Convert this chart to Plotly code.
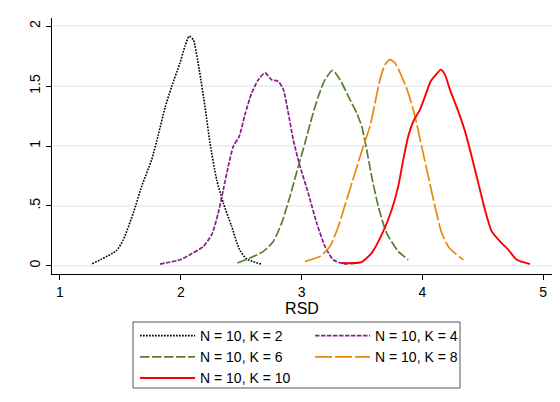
import plotly.graph_objects as go

# Kernel density estimates of RSD, N = 10, for several K values
rsd_k2 = [1.267, 1.469, 1.524, 1.607, 1.676, 1.759, 1.814, 1.869, 1.925, 1.993, 2.035, 2.070,
          2.103, 2.153, 2.200, 2.242, 2.297, 2.352, 2.421, 2.484, 2.546, 2.664]
den_k2 = [0.017, 0.128, 0.217, 0.440, 0.663, 0.886, 1.094, 1.317, 1.498, 1.693, 1.835, 1.917,
          1.888, 1.637, 1.330, 1.025, 0.719, 0.524, 0.329, 0.140, 0.056, 0.014]

rsd_k4 = [1.828, 1.993, 2.076, 2.186, 2.256, 2.310, 2.352, 2.393, 2.435, 2.484, 2.531, 2.587,
          2.642, 2.697, 2.752, 2.807, 2.849, 2.890, 2.931, 2.987, 3.055, 3.125, 3.194, 3.262,
          3.345, 3.467]
den_k4 = [0.014, 0.050, 0.092, 0.161, 0.259, 0.440, 0.635, 0.830, 0.997, 1.081, 1.261, 1.443,
          1.554, 1.610, 1.554, 1.540, 1.471, 1.276, 1.053, 0.830, 0.607, 0.357, 0.161, 0.050,
          0.017, 0.022]

rsd_k6 = [2.468, 2.573, 2.683, 2.766, 2.835, 2.904, 2.973, 3.028, 3.084, 3.139, 3.194, 3.257,
          3.318, 3.387, 3.456, 3.498, 3.539, 3.580, 3.635, 3.704, 3.800, 3.883]
den_k6 = [0.023, 0.064, 0.120, 0.203, 0.356, 0.579, 0.830, 1.025, 1.234, 1.415, 1.554, 1.632,
          1.554, 1.415, 1.276, 1.164, 0.969, 0.746, 0.495, 0.273, 0.120, 0.050]

rsd_k8 = [3.028, 3.152, 3.235, 3.304, 3.373, 3.442, 3.511, 3.566, 3.608, 3.649, 3.690, 3.732,
          3.773, 3.829, 3.883, 3.939, 3.994, 4.049, 4.104, 4.160, 4.223, 4.339]
den_k8 = [0.036, 0.078, 0.161, 0.328, 0.551, 0.774, 0.997, 1.164, 1.359, 1.554, 1.679, 1.721,
          1.693, 1.582, 1.443, 1.247, 0.997, 0.746, 0.495, 0.273, 0.148, 0.050]

rsd_k10 = [3.332, 3.401, 3.497, 3.580, 3.676, 3.746, 3.800, 3.842, 3.883, 3.925, 3.980, 4.022,
           4.069, 4.113, 4.152, 4.187, 4.228, 4.297, 4.353, 4.408, 4.463, 4.518, 4.574, 4.656,
           4.711, 4.781, 4.891]
den_k10 = [0.023, 0.022, 0.031, 0.106, 0.287, 0.468, 0.663, 0.886, 1.081, 1.206, 1.304, 1.415,
           1.540, 1.596, 1.638, 1.596, 1.471, 1.289, 1.122, 0.913, 0.690, 0.468, 0.287, 0.189,
           0.134, 0.050, 0.014]

labels = ["N = 10, K = 2", "N = 10, K = 4", "N = 10, K = 6", "N = 10, K = 8", "N = 10, K = 10"]
y_ticks = [0, 0.5, 1, 1.5, 2]
y_tick_text = ["0", ".5", "1", "1.5", "2"]
x_ticks = [1, 2, 3, 4, 5]

series = [
    (rsd_k2, den_k2, "#000000", "1.7px,1.3px", 1.6),
    (rsd_k4, den_k4, "#8b1a8b", "4.5px,1.5px", 1.7),
    (rsd_k6, den_k6, "#5a7d32", "9.5px,2.5px", 1.7),
    (rsd_k8, den_k8, "#e8890c", "17px,3px", 1.7),
    (rsd_k10, den_k10, "#ff0000", "solid", 1.9),
]

fig = go.Figure()
for (x, y, color, dash, width), name in zip(series, labels):
    fig.add_trace(go.Scatter(
        x=x, y=y, mode="lines", name=name,
        line=dict(color=color, dash=dash, width=width, shape="spline", smoothing=0.6),
    ))

# frame around the legend keys
fig.add_shape(
    type="rect", xref="paper", yref="paper",
    x0=0.162, x1=0.816, y0=-0.4453, y1=-0.1875,
    line=dict(color="#555555", width=1), fillcolor="rgba(0,0,0,0)",
)

fig.update_layout(
    width=560, height=402,
    margin=dict(l=52, r=8, t=18, b=128, autoexpand=False),
    paper_bgcolor="white", plot_bgcolor="white",
    font=dict(family="Liberation Sans, Arial, sans-serif", color="#000000", size=13),
    showlegend=True,
    legend=dict(
        orientation="h",
        x=0.166, xanchor="left",
        y=-0.1797, yanchor="top",
        entrywidth=105, entrywidthmode="pixels",
        itemwidth=55,
        borderwidth=0,
        bgcolor="rgba(0,0,0,0)",
        font=dict(size=14),
        traceorder="normal",
    ),
    xaxis=dict(
        range=[0.934, 5.073],
        tickvals=x_ticks,
        ticks="outside", ticklen=5, tickcolor="#000000", tickwidth=1,
        showline=True, linecolor="#000000", linewidth=1,
        showgrid=False, zeroline=False,
        tickfont=dict(size=14),
        title=dict(text="RSD", font=dict(size=16), standoff=4),
    ),
    yaxis=dict(
        range=[-0.069, 2.069],
        tickvals=y_ticks, ticktext=y_tick_text,
        tickangle=-90,
        ticks="outside", ticklen=5, tickcolor="#000000", tickwidth=1,
        showline=True, linecolor="#000000", linewidth=1,
        showgrid=True, gridcolor="#eaf2f3", gridwidth=1.5,
        zeroline=False,
        tickfont=dict(size=14),
    ),
)

fig.write_html("out.html")
